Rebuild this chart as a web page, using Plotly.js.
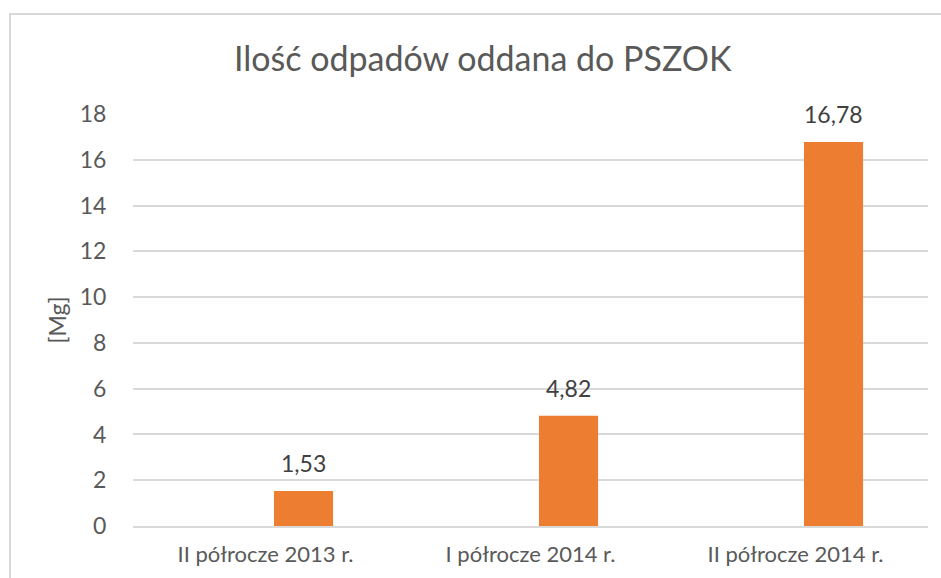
<!DOCTYPE html>
<html>
<head>
<meta charset="utf-8">
<script src="https://cdn.plot.ly/plotly-3.0.1.min.js"></script>
<style>
  html, body { margin: 0; padding: 0; background: #ffffff; overflow: hidden; }
  #frame { position: absolute; left: 9px; top: 13px; width: 1000px; height: 700px;
           border-left: 2px solid #d9d9d9; border-top: 2px solid #d9d9d9; box-sizing: border-box; }
  #chart { position: absolute; left: 0; top: 0; width: 941px; height: 578px; }
</style>
</head>
<body>
<div id="frame"></div>
<div id="chart"></div>
<script>
const categories = ['II półrocze 2013 r.', 'I półrocze 2014 r.', 'II półrocze 2014 r.'];
const values = [1.53, 4.82, 16.78];
const yTicks = [0, 2, 4, 6, 8, 10, 12, 14, 16, 18];
const chartTitle = 'Ilość odpadów oddana do PSZOK';
const yTitle = '[Mg]';

const FONT = 'Lato, "Open Sans", sans-serif';
const GREY = '#595959';
const BAR_OFFSET = 0.032;
const BAR_WIDTH = 0.223;

const fmt = v => v.toFixed(2).replace('.', ',');

const trace = {
  type: 'bar',
  x: categories,
  y: values,
  offset: BAR_OFFSET,
  width: BAR_WIDTH,
  marker: { color: '#ed7d31', line: { width: 0 } },
  hoverinfo: 'skip'
};

const annotations = values.map((v, i) => ({
  x: i + BAR_OFFSET + BAR_WIDTH / 2,
  y: v,
  xref: 'x', yref: 'y',
  text: fmt(v),
  showarrow: false,
  yanchor: 'bottom',
  yshift: 12,
  font: { family: FONT, size: 23, color: '#404040' }
}));

const layout = {
  width: 941, height: 578,
  paper_bgcolor: 'rgba(0,0,0,0)',
  plot_bgcolor: 'rgba(0,0,0,0)',
  margin: { l: 133, r: 13, t: 114, b: 52 },
  separators: ', ',
  showlegend: false,
  title: {
    text: chartTitle,
    font: { family: FONT, size: 34, color: GREY },
    x: 0.513, xanchor: 'center',
    y: 0.897, yanchor: 'middle'
  },
  xaxis: {
    type: 'category',
    tickfont: { family: FONT, size: 22, color: GREY },
    showgrid: false,
    showline: true, linecolor: '#d9d9d9', linewidth: 2,
    ticks: 'outside', ticklen: 8, tickcolor: 'rgba(0,0,0,0)',
    zeroline: false
  },
  yaxis: {
    range: [0, 18],
    tickvals: yTicks,
    ticktext: yTicks.map(String),
    tickfont: { family: FONT, size: 23, color: GREY },
    showgrid: true, gridcolor: '#d9d9d9', gridwidth: 2,
    zeroline: false, showline: false,
    ticks: 'outside', ticklen: 21, tickcolor: 'rgba(0,0,0,0)',
    title: { text: yTitle, font: { family: FONT, size: 23, color: GREY }, standoff: 6 }
  },
  annotations: annotations
};

Plotly.newPlot('chart', [trace], layout, { displayModeBar: false, staticPlot: true });
</script>
</body>
</html>
